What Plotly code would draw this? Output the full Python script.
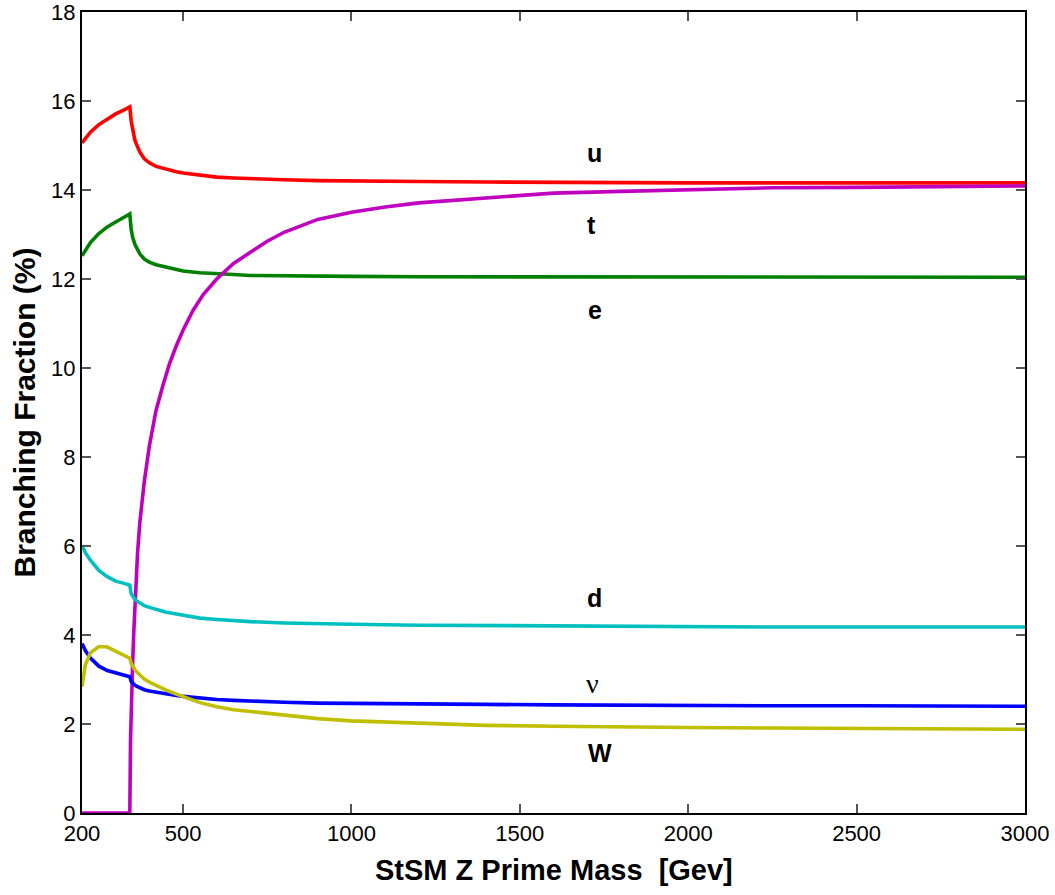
import plotly.graph_objects as go

# Z' mass grid [GeV]
mass = [200, 205, 210, 225, 250, 275, 300, 325, 342, 346, 350, 357, 365, 372, 385, 400, 420,
        450, 480, 500, 550, 600, 650, 700, 800, 900, 1000, 1200, 1400, 1600, 1800, 2000,
        2250, 2500, 2750, 3000]

# Branching fractions (%)
br_u = [15.06, 15.11, 15.17, 15.30, 15.47, 15.60, 15.71, 15.80, 15.87, 15.55, 15.35, 15.12, 14.97,
        14.85, 14.70, 14.61, 14.53, 14.46, 14.41, 14.38, 14.33, 14.29, 14.27, 14.25, 14.23, 14.21,
        14.20, 14.19, 14.18, 14.17, 14.17, 14.16, 14.16, 14.16, 14.16, 14.16]
br_e = [12.52, 12.58, 12.65, 12.82, 13.02, 13.17, 13.28, 13.38, 13.46, 13.12, 12.95, 12.78, 12.65,
        12.56, 12.45, 12.38, 12.32, 12.26, 12.21, 12.18, 12.14, 12.11, 12.10, 12.08, 12.07, 12.06,
        12.06, 12.05, 12.05, 12.05, 12.05, 12.04, 12.04, 12.04, 12.04, 12.04]
br_d = [6.02, 5.93, 5.85, 5.68, 5.45, 5.31, 5.21, 5.16, 5.12, 4.93, 4.88, 4.80, 4.75, 4.72, 4.66,
        4.62, 4.57, 4.51, 4.47, 4.44, 4.38, 4.35, 4.32, 4.30, 4.27, 4.25, 4.24, 4.22, 4.21, 4.20,
        4.19, 4.19, 4.18, 4.18, 4.18, 4.18]
br_nu = [3.81, 3.73, 3.65, 3.48, 3.30, 3.20, 3.14, 3.09, 3.06, 2.96, 2.92, 2.87, 2.84, 2.81, 2.77,
         2.74, 2.71, 2.67, 2.64, 2.62, 2.58, 2.55, 2.53, 2.51, 2.49, 2.47, 2.46, 2.45, 2.44, 2.43,
         2.42, 2.42, 2.41, 2.41, 2.40, 2.40]
br_w = [2.84, 3.10, 3.33, 3.60, 3.74, 3.73, 3.63, 3.54, 3.48, 3.36, 3.30, 3.22, 3.15, 3.10, 3.01,
        2.94, 2.86, 2.76, 2.67, 2.62, 2.48, 2.39, 2.32, 2.28, 2.20, 2.12, 2.07, 2.01, 1.97, 1.95,
        1.93, 1.92, 1.91, 1.90, 1.89, 1.88]

# top-quark channel: its own, finer mass grid around the threshold
mass_t = [200, 342, 344, 346, 348, 350, 354, 357, 361, 365, 372, 385, 400, 420, 440, 460, 480,
          500, 530, 560, 600, 650, 700, 750, 800, 900, 1000, 1100, 1200, 1400, 1600, 1800, 2000,
          2250, 2500, 2750, 3000]
br_t = [0, 0, 1.6, 2.3, 2.85, 3.3, 4.1, 4.7, 5.35, 5.85, 6.55, 7.45, 8.25, 9.05, 9.6, 10.1, 10.5,
        10.85, 11.3, 11.65, 12.0, 12.35, 12.6, 12.85, 13.05, 13.34, 13.5, 13.62, 13.71, 13.83,
        13.93, 13.97, 14.01, 14.05, 14.06, 14.08, 14.09]

series = [
    ("u", mass, br_u, "#FF0000"),
    ("e", mass, br_e, "#008000"),
    ("t", mass_t, br_t, "#BF00BF"),
    ("d", mass, br_d, "#00BFBF"),
    ("nu", mass, br_nu, "#0000FF"),
    ("W", mass, br_w, "#BFBF00"),
]

x_ticks = [200, 500, 1000, 1500, 2000, 2500, 3000]
y_ticks = [0, 2, 4, 6, 8, 10, 12, 14, 16, 18]

# curve labels: (text, mass, value, bold)
labels = [
    ("u", 1723, 14.83, True),
    ("t", 1714, 13.21, True),
    ("e", 1723, 11.30, True),
    ("d", 1723, 4.83, True),
    ("ν", 1717, 2.92, False),
    ("W", 1738, 1.35, True),
]

fig = go.Figure()
for name, xs, vals, col in series:
    fig.add_trace(go.Scatter(x=xs, y=vals, mode="lines", name=name,
                             line=dict(color=col, width=3.6)))

sans = "Liberation Sans, Arial, sans-serif"

for txt, xm, yv, bold in labels:
    fig.add_annotation(x=xm, y=yv, xref="x", yref="y", showarrow=False,
                       text=f"<b>{txt}</b>" if bold else txt,
                       font=dict(size=25 if bold else 28, color="black",
                                 family=sans if bold
                                 else "Liberation Serif, Times New Roman, serif"))

fig.add_annotation(x=0.5, y=0, xref="paper", yref="paper", yshift=-57, showarrow=False,
                   text="<b>StSM Z Prime Mass  [Gev]</b>", yanchor="middle",
                   font=dict(size=29, family=sans, color="black"))
fig.add_annotation(x=0, y=0.5, xref="paper", yref="paper", xshift=-58, showarrow=False,
                   text="<b>Branching Fraction (%)</b>", textangle=-90, xanchor="center",
                   font=dict(size=30, family=sans, color="black"))

fig.update_layout(
    width=1055, height=895,
    margin=dict(l=82, r=30, t=12, b=82),
    paper_bgcolor="white", plot_bgcolor="white",
    showlegend=False,
    xaxis=dict(range=[200, 3000], tickvals=x_ticks, ticktext=[str(v) for v in x_ticks],
               ticks="inside", ticklen=9, tickcolor="#555555", tickwidth=1.5,
               showline=True, linecolor="black", linewidth=2, mirror="ticks",
               showgrid=False, zeroline=False, automargin=False,
               ticklabeloverflow="allow",
               tickfont=dict(size=22, family=sans, color="black")),
    yaxis=dict(range=[0, 18], tickvals=y_ticks,
               ticks="inside", ticklen=9, tickcolor="#555555", tickwidth=1.5,
               showline=True, linecolor="black", linewidth=2, mirror="ticks",
               showgrid=False, zeroline=False, automargin=False,
               ticklabeloverflow="allow",
               tickfont=dict(size=22, family=sans, color="black")),
)

fig.write_html("out.html", config={"displayModeBar": False},
               post_script="document.body.style.margin='0';document.body.style.overflow='hidden';")
